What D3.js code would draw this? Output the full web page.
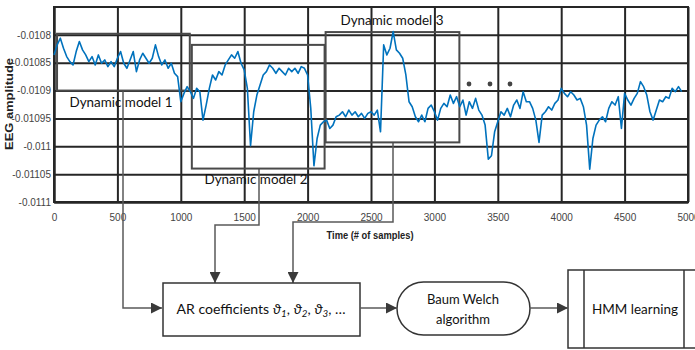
<!DOCTYPE html>
<html>
<head>
<meta charset="utf-8">
<script src="https://cdn.jsdelivr.net/npm/d3@7/dist/d3.min.js"></script>
<style>
  body { margin: 0; background: #fff; }
  svg { display: block; }
</style>
</head>
<body>
<svg id="chart" width="695" height="350"></svg>
<script>
// EEG trace, one value every 25 samples
var sampleStep = 25;
var eeg = [
  -0.010836, -0.010818, -0.010806, -0.010824, -0.010839, -0.010848, -0.010854, -0.010830,
  -0.010812, -0.010827, -0.010836, -0.010848, -0.010839, -0.010854, -0.010836, -0.010851,
  -0.010845, -0.010857, -0.010848, -0.010857, -0.010842, -0.010830, -0.010851, -0.010860,
  -0.010845, -0.010830, -0.010866, -0.010845, -0.010833, -0.010842, -0.010851, -0.010842,
  -0.010818, -0.010839, -0.010854, -0.010845, -0.010860, -0.010851, -0.010869, -0.010875,
  -0.010920, -0.010905, -0.010893, -0.010902, -0.010914, -0.010896, -0.010902, -0.010953,
  -0.010926, -0.010896, -0.010872, -0.010881, -0.010866, -0.010872, -0.010854, -0.010845,
  -0.010836, -0.010842, -0.010830, -0.010851, -0.010863, -0.010896, -0.010999, -0.010938,
  -0.010908, -0.010890, -0.010872, -0.010866, -0.010854, -0.010860, -0.010869, -0.010860,
  -0.010866, -0.010872, -0.010860, -0.010866, -0.010860, -0.010869, -0.010857, -0.010860,
  -0.010872, -0.010932, -0.011035, -0.010986, -0.010962, -0.010956, -0.010953, -0.010968,
  -0.010962, -0.010947, -0.010944, -0.010938, -0.010947, -0.010935, -0.010944, -0.010938,
  -0.010947, -0.010941, -0.010950, -0.010941, -0.010938, -0.010944, -0.010935, -0.010974,
  -0.010818, -0.010836, -0.010824, -0.010794, -0.010827, -0.010833, -0.010842, -0.010872,
  -0.010920, -0.010929, -0.010947, -0.010956, -0.010944, -0.010956, -0.010932, -0.010926,
  -0.010938, -0.010953, -0.010932, -0.010923, -0.010929, -0.010908, -0.010923, -0.010911,
  -0.010929, -0.010917, -0.010944, -0.010920, -0.010932, -0.010914, -0.010935, -0.010944,
  -0.010962, -0.011023, -0.011017, -0.010974, -0.010956, -0.010938, -0.010944, -0.010932,
  -0.010947, -0.010926, -0.010917, -0.010932, -0.010902, -0.010920, -0.010920, -0.010932,
  -0.010953, -0.010993, -0.010944, -0.010938, -0.010929, -0.010935, -0.010923, -0.010917,
  -0.010896, -0.010905, -0.010911, -0.010902, -0.010908, -0.010917, -0.010914, -0.010929,
  -0.010962, -0.011041, -0.010986, -0.010962, -0.010953, -0.010947, -0.010956, -0.010932,
  -0.010920, -0.010926, -0.010911, -0.010968, -0.010905, -0.010917, -0.010926, -0.010914,
  -0.010905, -0.010884, -0.010893, -0.010908, -0.010938, -0.010953, -0.010935, -0.010917,
  -0.010920, -0.010911, -0.010914, -0.010896, -0.010902, -0.010893, -0.010902
];

var xTicks = [0, 500, 1000, 1500, 2000, 2500, 3000, 3500, 4000, 4500, 5000];
var yTicks = [-0.0108, -0.01085, -0.0109, -0.01095, -0.011, -0.01105, -0.0111];
var yTickLabels = ["-0.0108", "-0.01085", "-0.0109", "-0.01095", "-0.011", "-0.01105", "-0.0111"];

// the three dynamic model windows (samples / amplitude)
var modelNames = ["Dynamic model 1", "Dynamic model 2", "Dynamic model 3"];
var modelStart = [24, 1087, 2142];
var modelEnd = [1071, 2134, 3197];
var modelHigh = [-0.010798, -0.010818, -0.010795];
var modelLow = [-0.0109, -0.01104, -0.010993];

var svg = d3.select("#chart");
var plotL = 54, plotR = 688, plotT = 7, plotB = 202;
var gridColor = "#262626", boxColor = "#4a4a4a", lineGray = "#5a5a5a";

var x = d3.scaleLinear().domain([0, 5000]).range([plotL, plotR]);
var y = d3.scaleLinear().domain([-0.0111, -0.01075]).range([plotB, plotT]);

// arrow head
svg.append("defs").append("marker")
  .attr("id", "arrow")
  .attr("viewBox", "0 0 10 10")
  .attr("refX", 10).attr("refY", 5)
  .attr("markerUnits", "userSpaceOnUse")
  .attr("markerWidth", 17).attr("markerHeight", 11)
  .attr("orient", "auto")
  .append("path").attr("d", "M0,0L10,5L0,10Z").attr("fill", "#3a3a3a");

// frame
svg.append("rect")
  .attr("x", plotL).attr("y", plotT)
  .attr("width", plotR - plotL).attr("height", plotB - plotT)
  .attr("fill", "none").attr("stroke", gridColor).attr("stroke-width", 2);

// axes with grid
var yAxis = svg.append("g")
  .attr("transform", "translate(" + plotL + ",0)")
  .call(d3.axisLeft(y).tickValues(yTicks)
    .tickFormat(function(d, i) { return yTickLabels[i]; })
    .tickSize(-(plotR - plotL)).tickSizeOuter(0).tickPadding(3));

var xAxis = svg.append("g")
  .attr("transform", "translate(0," + plotB + ")")
  .call(d3.axisBottom(x).tickValues(xTicks).tickFormat(d3.format("d"))
    .tickSize(-(plotB - plotT)).tickSizeOuter(0).tickPadding(12));

[xAxis, yAxis].forEach(function(g) {
  g.select(".domain").attr("stroke", gridColor).attr("stroke-width", 2);
  g.selectAll(".tick line").attr("stroke", gridColor).attr("stroke-width", 2);
  g.selectAll(".tick text")
    .attr("fill", "#444")
    .style("font", "10px 'Liberation Sans', Arial, sans-serif");
});

// axis titles
svg.append("text")
  .attr("transform", "translate(13,104) rotate(-90)")
  .attr("text-anchor", "middle")
  .attr("textLength", 92).attr("lengthAdjust", "spacingAndGlyphs")
  .style("font", "bold 10px 'Liberation Sans', Arial, sans-serif")
  .attr("fill", "#222")
  .text("EEG amplitude");

svg.append("text")
  .attr("x", 370).attr("y", 239)
  .attr("text-anchor", "middle")
  .attr("textLength", 87).attr("lengthAdjust", "spacingAndGlyphs")
  .style("font", "bold 11px 'Liberation Sans', Arial, sans-serif")
  .attr("fill", "#222")
  .text("Time (# of samples)");

// connectors from the model windows down to the AR box
var conn = svg.append("g").attr("fill", "none").attr("stroke", lineGray).attr("stroke-width", 1.5);
conn.append("path").attr("d", "M123," + y(modelLow[0]) + "V308H162").attr("marker-end", "url(#arrow)");
conn.append("path").attr("d", "M259," + y(modelLow[1]) + "V225H215V283").attr("marker-end", "url(#arrow)");
conn.append("path").attr("d", "M393," + y(modelLow[2]) + "V222H293V283").attr("marker-end", "url(#arrow)");

// model windows
svg.append("g").selectAll("rect").data(modelNames).enter().append("rect")
  .attr("x", function(d, i) { return x(modelStart[i]); })
  .attr("y", function(d, i) { return y(modelHigh[i]); })
  .attr("width", function(d, i) { return x(modelEnd[i]) - x(modelStart[i]); })
  .attr("height", function(d, i) { return y(modelLow[i]) - y(modelHigh[i]); })
  .attr("fill", "none").attr("stroke", boxColor).attr("stroke-width", 2);

// EEG line
var line = d3.line()
  .x(function(d, i) { return x(i * sampleStep); })
  .y(function(d) { return y(d); });

svg.append("path")
  .datum(eeg)
  .attr("d", line)
  .attr("fill", "none")
  .attr("stroke", "#0072BD")
  .attr("stroke-width", 1.6)
  .attr("stroke-linejoin", "round");

// model labels
var labelPos = [[121, 107], [256, 184], [392, 25]];
svg.append("g").selectAll("text").data(modelNames).enter().append("text")
  .attr("x", function(d, i) { return labelPos[i][0]; })
  .attr("y", function(d, i) { return labelPos[i][1]; })
  .attr("text-anchor", "middle")
  .attr("textLength", 103).attr("lengthAdjust", "spacingAndGlyphs")
  .style("font", "13px Lato, 'Open Sans', sans-serif")
  .attr("fill", "#111")
  .text(function(d) { return d; });

// continuation dots
svg.append("g").selectAll("circle").data([469, 490, 510]).enter().append("circle")
  .attr("cx", function(d) { return d; }).attr("cy", 84).attr("r", 2.4)
  .attr("fill", "#444");

// flow chart
var flow = svg.append("g").attr("fill", "#fff").attr("stroke", "#333").attr("stroke-width", 1.5);
flow.append("rect").attr("x", 163).attr("y", 283).attr("width", 197).attr("height", 53);
flow.append("rect").attr("x", 397).attr("y", 282).attr("width", 133).attr("height", 53)
  .attr("rx", 26.5).attr("ry", 26.5);
flow.append("rect").attr("x", 568).attr("y", 270).attr("width", 140).attr("height", 78);
flow.append("line").attr("x1", 584).attr("x2", 584).attr("y1", 270).attr("y2", 348);
flow.append("line").attr("x1", 684).attr("x2", 684).attr("y1", 270).attr("y2", 348);

var arrows = svg.append("g").attr("fill", "none").attr("stroke", lineGray).attr("stroke-width", 1.5);
arrows.append("path").attr("d", "M360,308H397").attr("marker-end", "url(#arrow)");
arrows.append("path").attr("d", "M530,308H568").attr("marker-end", "url(#arrow)");

var flowFont = "13px Lato, 'Open Sans', sans-serif";

var ar = svg.append("text")
  .attr("x", 261).attr("y", 314)
  .attr("text-anchor", "middle")
  .attr("textLength", 169).attr("lengthAdjust", "spacingAndGlyphs")
  .style("font", flowFont).attr("fill", "#111");
ar.append("tspan").text("AR coefficients ");
[["1", ", "], ["2", ", "], ["3", ", …"]].forEach(function(p) {
  ar.append("tspan").attr("font-style", "italic").text("ϑ");
  ar.append("tspan").attr("font-style", "italic").attr("font-size", "9px").attr("dy", 3).text(p[0]);
  ar.append("tspan").attr("dy", -3).text(p[1]);
});

svg.append("text").attr("x", 463).attr("y", 304).attr("text-anchor", "middle")
  .style("font", flowFont).attr("fill", "#111").text("Baum  Welch");
svg.append("text").attr("x", 463).attr("y", 324).attr("text-anchor", "middle")
  .style("font", flowFont).attr("fill", "#111").text("algorithm");
svg.append("text").attr("x", 635).attr("y", 314).attr("text-anchor", "middle")
  .attr("textLength", 86).attr("lengthAdjust", "spacingAndGlyphs")
  .style("font", flowFont).attr("fill", "#111").text("HMM learning");
</script>
</body>
</html>
